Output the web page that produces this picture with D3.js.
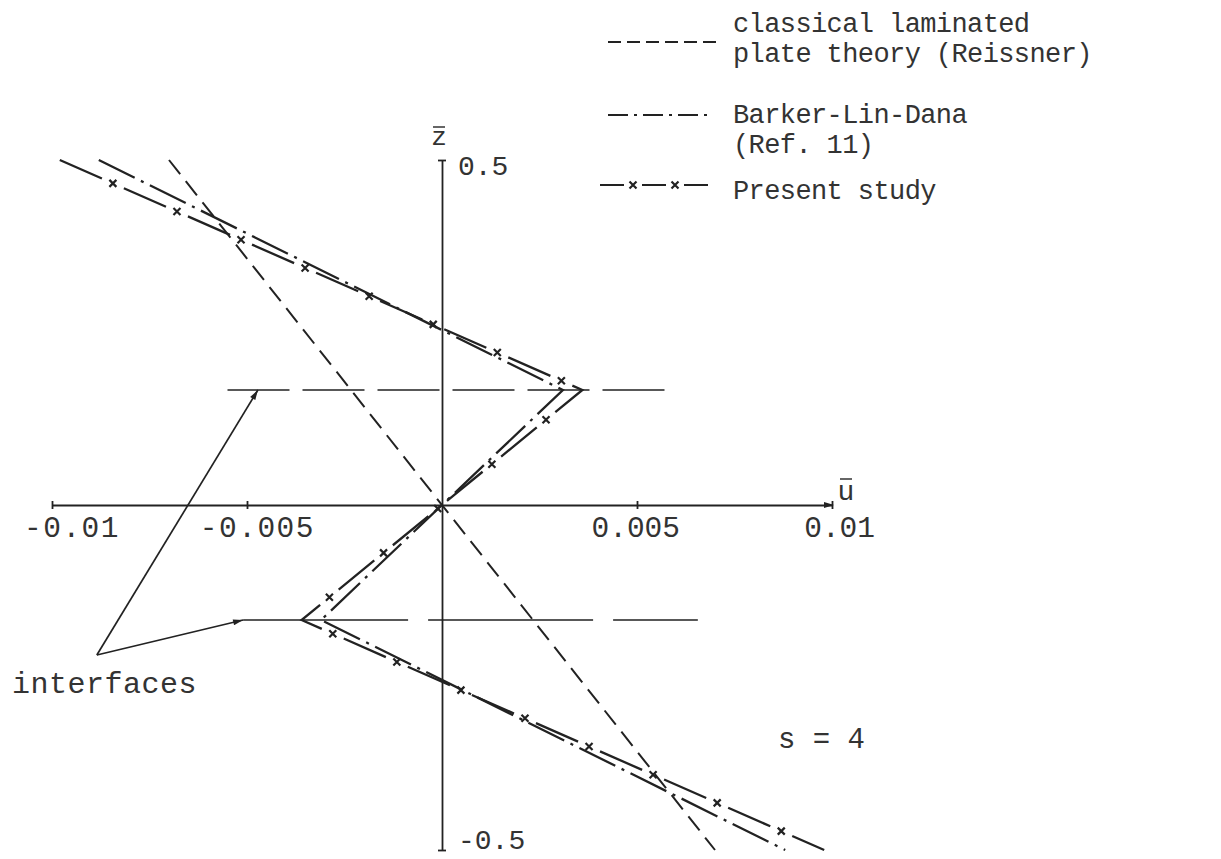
<!DOCTYPE html>
<html><head><meta charset="utf-8">
<script src="https://cdn.jsdelivr.net/npm/d3@7"></script>
<style>body{margin:0;background:#fff}svg{display:block}</style>
</head><body>
<svg id="chart" width="1221" height="859"></svg>
<script>
// ---------------- data ----------------
const zLevels = [0.5, 1/6, 0, -1/6, -0.5];
const classicalZ = [0.5, -0.5];
const classicalU = [-0.0070, 0.0070];
const barkerU = [-0.0088, 0.0031, 0, -0.0031, 0.0088];
const presentU = [-0.0098, 0.0036, 0, -0.0036, 0.0098];
const xTicks = [-0.01, -0.005, 0.005, 0.01];
const xTickLabels = ["-0.01", "-0.005", "0.005", "0.01"];
const yTicks = [0.5, -0.5];
const yTickLabels = ["0.5", "-0.5"];
const interfaceZ = [1/6, -1/6];
const interfaceFromU = [-0.0055, -0.0051];
const interfaceToU = [0.0060, 0.00656];
const arrowTail = {u: -0.00885, z: -0.2174};
const arrowHeadU = [-0.00472, -0.0051];
const legendLines = [["classical laminated", "plate theory (Reissner)"], ["Barker-Lin-Dana", "(Ref. 11)"], ["Present study"]];
const annotationText = "interfaces";
const noteText = "s = 4";
const xAxisLabel = "u";
const yAxisLabel = "z";

// ---------------- layout ----------------
const svg = d3.select("#chart");
const ink = "#222";
const textInk = "#333";
const font = "'Liberation Mono', 'DejaVu Sans Mono', monospace";

const x = d3.scaleLinear().domain([-0.01, 0.01]).range([52, 832]);
const y = d3.scaleLinear().domain([-0.5, 0.5]).range([850, 160]);

const defs = svg.append("defs");
defs.append("marker").attr("id", "ah").attr("viewBox", "0 0 10 6")
  .attr("refX", 10).attr("refY", 3).attr("markerWidth", 16).attr("markerHeight", 6)
  .attr("markerUnits", "userSpaceOnUse").attr("orient", "auto")
  .append("path").attr("d", "M0,0 L10,3 L0,6 Z").attr("fill", ink);

// axes
const gx = svg.append("g").attr("transform", `translate(0,${y(0)})`)
  .call(d3.axisBottom(x).tickValues(xTicks).tickSizeInner(0).tickSizeOuter(0).tickFormat(""));
gx.select(".domain").attr("stroke", ink).attr("stroke-width", 1.8);
gx.selectAll(".tick line").attr("y1", -4).attr("y2", 4).attr("stroke", ink).attr("stroke-width", 1.8);
svg.append("path").attr("d", `M${x(0.01) - 8},${y(0) - 3} L${x(0.01) + 2},${y(0)} L${x(0.01) - 8},${y(0) + 3} Z`).attr("fill", ink);

const gy = svg.append("g").attr("transform", `translate(${x(0)},0)`)
  .call(d3.axisRight(y).tickValues(yTicks).tickSizeInner(0).tickSizeOuter(0).tickFormat(""));
gy.select(".domain").attr("stroke", ink).attr("stroke-width", 1.8);
gy.selectAll(".tick line").attr("x1", -4).attr("x2", 4).attr("stroke", ink).attr("stroke-width", 1.8);

// tick labels
svg.append("g").selectAll("text").data(xTicks).join("text")
  .attr("x", d => x(d) + (d < 0 ? 68 : 43)).attr("y", 537)
  .attr("text-anchor", "end").attr("font-family", font).attr("font-size", 29.5)
  .attr("letter-spacing", (d) => d < 0 ? 1.5 : 0)
  .attr("fill", textInk).text((d, i) => xTickLabels[i]);
svg.append("g").selectAll("text").data(yTicks).join("text")
  .attr("x", x(0) + 16).attr("y", d => y(d) + (d > 0 ? 15 : -1))
  .attr("font-family", font).attr("font-size", 28)
  .attr("fill", textInk).text((d, i) => yTickLabels[i]);

// axis labels with overbars
svg.append("text").attr("x", x(0.01) + 14).attr("y", y(0) - 5).attr("text-anchor", "middle")
  .attr("font-family", font).attr("font-size", 28).attr("fill", textInk).text(xAxisLabel);
svg.append("line").attr("x1", x(0.01) + 8).attr("x2", x(0.01) + 20).attr("y1", y(0) - 26).attr("y2", y(0) - 26)
  .attr("stroke", textInk).attr("stroke-width", 1.5);
svg.append("text").attr("x", x(0) - 3).attr("y", y(0.5) - 15).attr("text-anchor", "middle")
  .attr("font-family", font).attr("font-size", 26).attr("fill", textInk).text(yAxisLabel);
svg.append("line").attr("x1", x(0) - 9).attr("x2", x(0) + 3).attr("y1", y(0.5) - 33).attr("y2", y(0.5) - 33)
  .attr("stroke", textInk).attr("stroke-width", 1.5);

// interfaces
svg.append("g").selectAll("line").data(interfaceZ).join("line")
  .attr("x1", (d, i) => x(interfaceFromU[i])).attr("x2", (d, i) => x(interfaceToU[i]))
  .attr("y1", d => y(d)).attr("y2", d => y(d))
  .attr("stroke", ink).attr("stroke-width", 1.7)
  .attr("stroke-dasharray", (d, i) => i === 0 ? "62,13" : "165,20");

// interface arrows
svg.append("g").selectAll("line").data(interfaceZ).join("line")
  .attr("x1", x(arrowTail.u)).attr("y1", y(arrowTail.z))
  .attr("x2", (d, i) => x(arrowHeadU[i])).attr("y2", d => y(d))
  .attr("stroke", ink).attr("stroke-width", 1.7).attr("marker-end", "url(#ah)");
svg.append("text").attr("x", 12).attr("y", 693).attr("font-family", font).attr("font-size", 30)
  .attr("letter-spacing", 0.5).attr("fill", textInk).text(annotationText);

// series
const line = d3.line().x(d => x(d.u)).y(d => y(d.z));
const classical = classicalZ.map((z, i) => ({z, u: classicalU[i]}));
const barker = zLevels.map((z, i) => ({z, u: barkerU[i]}));
const present = zLevels.map((z, i) => ({z, u: presentU[i]}));

svg.append("path").attr("d", line(classical)).attr("fill", "none")
  .attr("stroke", ink).attr("stroke-width", 2).attr("stroke-dasharray", "18,9");
svg.append("path").attr("d", line(barker)).attr("fill", "none")
  .attr("stroke", ink).attr("stroke-width", 2.3).attr("stroke-dasharray", "40,7,3,7");
const pPath = svg.append("path").attr("d", line(present)).attr("fill", "none")
  .attr("stroke", ink).attr("stroke-width", 2.3).attr("stroke-dasharray", "46,24");

function crossMarks(pathSel, start, step) {
  const node = pathSel.node();
  const L = node.getTotalLength();
  const g = svg.append("g").attr("stroke", ink).attr("stroke-width", 2.2);
  for (let s = start; s < L; s += step) {
    const p = node.getPointAtLength(s);
    g.append("path").attr("d", `M${p.x - 3.5},${p.y - 3.5}L${p.x + 3.5},${p.y + 3.5}M${p.x - 3.5},${p.y + 3.5}L${p.x + 3.5},${p.y - 3.5}`);
  }
}
crossMarks(pPath, 58, 70);

// legend
const leg = svg.append("g");
leg.append("line").attr("x1", 608).attr("x2", 716).attr("y1", 42).attr("y2", 42)
  .attr("stroke", ink).attr("stroke-width", 2).attr("stroke-dasharray", "13,6");
leg.append("line").attr("x1", 608).attr("x2", 710).attr("y1", 115).attr("y2", 115)
  .attr("stroke", ink).attr("stroke-width", 2.2).attr("stroke-dasharray", "20,6,3,6");
const lp = leg.append("path").attr("d", "M600,185L708,185")
  .attr("stroke", ink).attr("stroke-width", 2.2).attr("stroke-dasharray", "24,18");
crossMarks(lp, 33, 42);

const legendBaselines = [[32, 62], [123, 153], [199]];
legendLines.forEach((lines, i) => {
  lines.forEach((t, j) => {
    leg.append("text").attr("x", 733).attr("y", legendBaselines[i][j])
      .attr("font-family", font).attr("font-size", 27).attr("letter-spacing", -0.6)
      .attr("fill", textInk).text(t);
  });
});

svg.append("text").attr("x", 778).attr("y", 748).attr("font-family", font).attr("font-size", 29)
  .attr("fill", textInk).attr("xml:space", "preserve").text(noteText);
</script>
</body></html>
